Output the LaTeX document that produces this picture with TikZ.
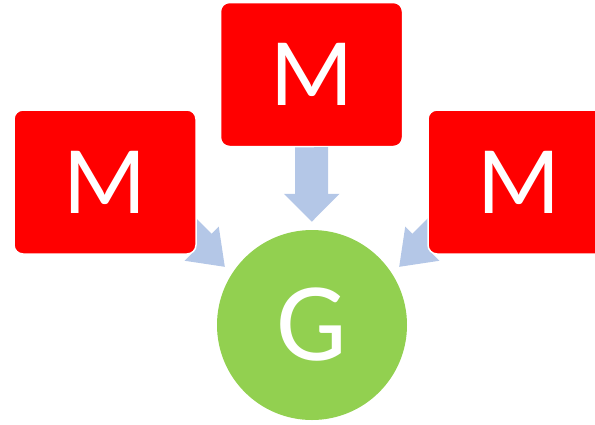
\documentclass[tikz,border=0pt]{standalone}
\usepackage{fontspec}
\setmainfont{Carlito}
\usetikzlibrary{arrows.meta}
\definecolor{mred}{HTML}{FF0000}
\definecolor{ggreen}{HTML}{92D050}
\definecolor{ablue}{HTML}{B4C7E7}
\tikzset{
    mbox/.style={draw=white, line width=1.5pt, fill=mred, rounded corners=9pt,
        minimum width=182pt, minimum height=144pt, text=white,
        font=\fontsize{97}{97}\selectfont},
    gnode/.style={circle, fill=ggreen, minimum size=190pt, text=white,
        font=\fontsize{112}{112}\selectfont},
    feed/.style={draw=ablue, line width=33pt, -{Triangle[length=28pt,width=54pt]}},
    side/.style={draw=ablue, line width=28pt, -{Triangle[length=33pt,width=46pt]}},
}

\begin{document}
\begin{tikzpicture}[x=1pt, y=-1pt]
\useasboundingbox (0,0) rectangle (595,424);

\coordinate (ltip) at (225,267);
\coordinate (rtip) at (399,267);

% arrows under the boxes
\draw[side] (170,212) -- (ltip);
\draw[side] (454,212) -- (rtip);

\node[mbox] (mleft) at (105,182) {M};
\node[mbox] (mtop) at (311.5,74.5) {M};
\node[mbox] (mright) at (519,182) {M};
\node[gnode] (g) at (312,325) {G};

\draw[feed, shorten >=8pt] (mtop) -- (g);

\end{tikzpicture}
\end{document}
